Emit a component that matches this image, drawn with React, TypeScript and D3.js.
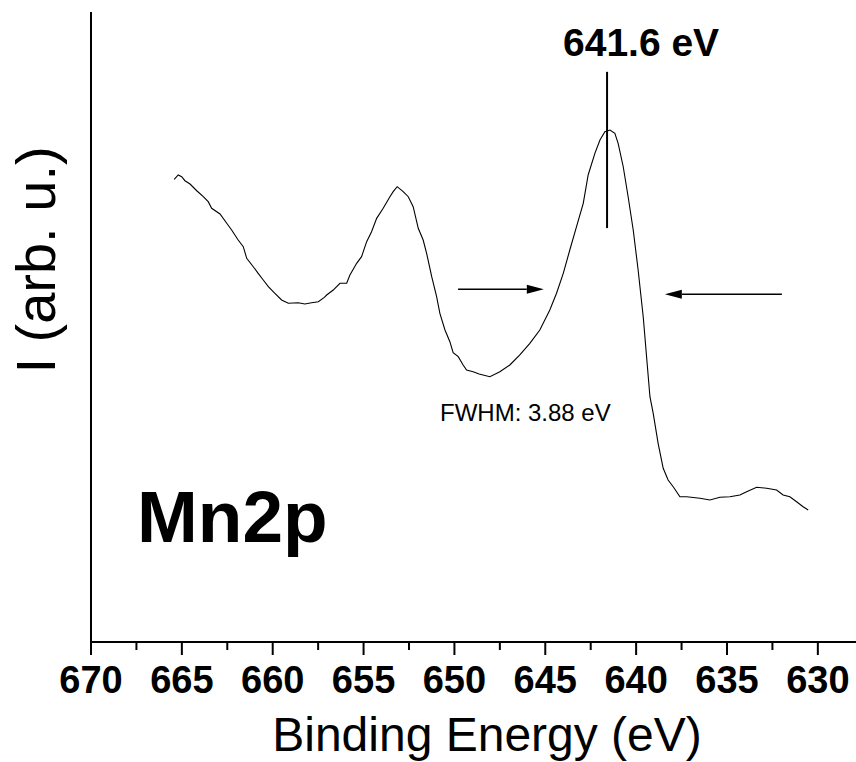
import React from 'react';
import * as d3 from 'd3';

// Mn2p XPS spectrum
const energy = [
  665.42, 665.2, 665.01, 664.83, 664.55, 664.18, 663.82, 663.55, 663.36, 662.9,
  662.53, 662.26, 661.9, 661.62, 661.43, 661.07, 660.8, 660.52, 660.24, 659.88,
  659.51, 659.14, 658.59, 658.23, 657.86, 657.49, 657.16, 657.03, 656.67, 656.3,
  655.93, 655.75, 655.38, 655.11, 654.83, 654.56, 654.28, 653.92, 653.55, 653.37,
  653.15, 652.82, 652.54, 652.27, 651.99, 651.72, 651.53, 651.25, 650.98, 650.8,
  650.52, 650.25, 650.07, 649.79, 649.52, 649.33, 648.97, 648.64, 648.05, 647.5,
  646.95, 646.4, 645.85, 645.3, 644.75, 644.38, 644.01, 643.65, 643.28, 642.91,
  642.64, 642.27, 641.99, 641.72, 641.44, 641.17, 640.99, 640.71, 640.44, 640.16,
  639.89, 639.61, 639.24, 639.06, 638.79, 638.51, 638.24, 637.96, 637.59, 637.22,
  636.49, 635.94, 635.39, 634.84, 634.29, 633.92, 633.37, 632.82, 632.27, 631.91,
  631.54, 631.17, 630.81, 630.53,
];

const intensity = [
  73.44, 74.13, 73.86, 73.22, 72.7, 71.63, 70.68, 69.89, 68.84, 67.94,
  66.46, 65.4, 63.81, 62.75, 60.9, 59.57, 58.52, 57.46, 56.4, 55.35,
  54.29, 53.76, 53.86, 53.65, 53.86, 54.02, 54.71, 55.08, 55.87, 56.94,
  56.94, 58.25, 60.11, 61.16, 63.54, 65.13, 67.25, 68.84, 70.68, 71.48,
  72.27, 71.48, 70.68, 69.1, 65.67, 63.81, 61.7, 57.98, 54.81, 52.17,
  49.52, 47.67, 45.92, 45.29, 43.97, 43.17, 42.9, 42.54, 42.11, 42.9,
  43.97, 45.56, 47.41, 49.52, 52.7, 55.35, 58.52, 62.22, 65.92, 69.63,
  74.13, 77.57, 79.68, 81.0, 81.27, 80.74, 79.16, 75.44, 70.68, 65.4,
  59.05, 51.63, 38.94, 36.3, 31.54, 27.57, 25.71, 24.65, 23.06, 23.06,
  22.81, 22.54, 22.97, 23.06, 23.33, 23.86, 24.56, 24.4, 24.13, 23.33,
  23.06, 22.27, 21.48, 20.95,
];

const majorTicks = [670, 665, 660, 655, 650, 645, 640, 635, 630];
const minorTicks = [667.5, 662.5, 657.5, 652.5, 647.5, 642.5, 637.5, 632.5];

// annotations
const peakEnergy = 641.6;
const peakLine = [65.7, 90.5];
const fwhmLeft = { from: 649.8, to: 645.08, level: 56.0 };
const fwhmRight = { from: 631.98, to: 638.42, level: 55.2 };

const W = 856;
const H = 762;
const font = '"Liberation Sans", Arial, Helvetica, sans-serif';

export default function App() {
  const x = d3.scaleLinear().domain([670, 627.9]).range([91, 856]);
  const y = d3.scaleLinear().domain([0, 100]).range([642, 12]);

  const pts = energy.map((e, i) => [e, intensity[i]] as [number, number]);
  const line = d3
    .line<[number, number]>()
    .x((d) => x(d[0]))
    .y((d) => y(d[1]));

  const arrow = (x1: number, x2: number, yy: number) => {
    const dir = x2 > x1 ? 1 : -1;
    const head = 17;
    return (
      <g>
        <line x1={x1} y1={yy} x2={x2 - dir * head} y2={yy} stroke="#000" strokeWidth={1.6} />
        <path
          d={`M${x2},${yy} L${x2 - dir * head},${yy - 4.5} L${x2 - dir * head},${yy + 4.5} Z`}
          fill="#000"
        />
      </g>
    );
  };

  return (
    <svg
      width={W}
      height={H}
      style={{ position: 'absolute', left: 0, top: 0, background: '#fff' }}
      fontFamily={font}
    >
      {/* axes */}
      <line x1={91} y1={12} x2={91} y2={643} stroke="#000" strokeWidth={2} />
      <line x1={90} y1={642} x2={856} y2={642} stroke="#000" strokeWidth={2} />
      {majorTicks.map((t) => (
        <g key={t}>
          <line x1={x(t)} x2={x(t)} y1={642} y2={655} stroke="#000" strokeWidth={2} />
          <text x={x(t)} y={693} textAnchor="middle" fontSize={38} fontWeight="bold">
            {t}
          </text>
        </g>
      ))}
      {minorTicks.map((t) => (
        <line key={t} x1={x(t)} x2={x(t)} y1={642} y2={650} stroke="#000" strokeWidth={2} />
      ))}

      <text x={487} y={751} textAnchor="middle" fontSize={48}>
        Binding Energy (eV)
      </text>
      <text
        transform="translate(55,260) rotate(-90)"
        textAnchor="middle"
        fontSize={56}
      >
        I (arb. u.)
      </text>

      {/* spectrum */}
      <path d={line(pts) ?? ''} fill="none" stroke="#000" strokeWidth={1.1} />

      {/* peak marker */}
      <line
        x1={x(peakEnergy)}
        x2={x(peakEnergy)}
        y1={y(peakLine[0])}
        y2={y(peakLine[1])}
        stroke="#000"
        strokeWidth={2}
      />
      <text x={563} y={56} fontSize={39} fontWeight="bold">
        641.6 eV
      </text>

      {arrow(x(fwhmLeft.from), x(fwhmLeft.to), y(fwhmLeft.level))}
      {arrow(x(fwhmRight.from), x(fwhmRight.to), y(fwhmRight.level))}

      <text x={440} y={421} fontSize={24}>
        FWHM: 3.88 eV
      </text>

      <text x={137} y={542} fontSize={73} fontWeight="bold">
        Mn2p
      </text>
    </svg>
  );
}
